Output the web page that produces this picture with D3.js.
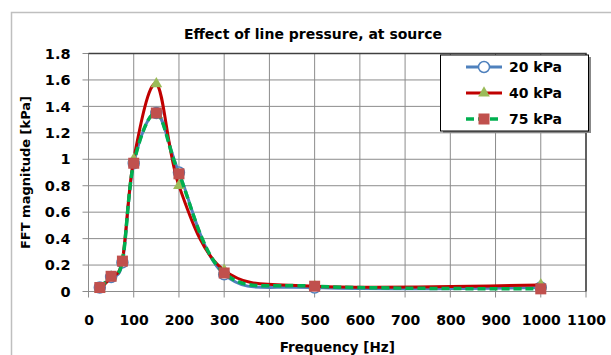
<!DOCTYPE html>
<html>
<head>
<meta charset="utf-8">
<script src="https://cdn.jsdelivr.net/npm/d3@7"></script>
<style>
  body { margin: 0; background: #fff; }
  svg { display: block; }
  text { font-family: 'DejaVu Sans', sans-serif; font-weight: bold; fill: #000; }
</style>
</head>
<body>
<script>
// Values
const freqs = [25, 50, 75, 100, 150, 200, 300, 500, 1000]
const kpa20 = [0.03, 0.11, 0.22, 0.97, 1.35, 0.90, 0.13, 0.03, 0.03]
const kpa40 = [0.02, 0.11, 0.24, 1.00, 1.57, 0.80, 0.16, 0.04, 0.05]
const kpa75 = [0.03, 0.115, 0.23, 0.97, 1.35, 0.89, 0.14, 0.04, 0.02]
const xTicks = [0, 100, 200, 300, 400, 500, 600, 700, 800, 900, 1000, 1100]
const yTicks = [0, 0.2, 0.4, 0.6, 0.8, 1, 1.2, 1.4, 1.6, 1.8]
const seriesNames = ['20 kPa', '40 kPa', '75 kPa']

const W = 611, H = 355
const svg = d3.select('body').append('svg').attr('width', W).attr('height', H)

// outer chart frame
svg.append('rect')
  .attr('x', 11.5).attr('y', 12.5).attr('width', 620).attr('height', 360)
  .attr('fill', '#fff').attr('stroke', '#bfbfbf').attr('stroke-width', 1.5)

const x = d3.scaleLinear().domain([0, 1100]).range([88.5, 586])
const y = d3.scaleLinear().domain([0, 1.8]).range([291.5, 53.5])

// gridlines
const grid = svg.append('g')
grid.selectAll('.vg').data(xTicks).join('line')
  .attr('x1', d => x(d)).attr('x2', d => x(d))
  .attr('y1', y(1.8)).attr('y2', y(0) + 6)
  .attr('stroke', '#8c8c8c').attr('stroke-width', 1)
grid.selectAll('.hg').data(yTicks).join('line')
  .attr('x1', x(0) - 6).attr('x2', x(1100))
  .attr('y1', d => y(d)).attr('y2', d => y(d))
  .attr('stroke', '#8c8c8c').attr('stroke-width', 1)

// plot area top/right border
svg.append('path')
  .attr('d', `M${x(0)},${y(1.8)}H${x(1100)}V${y(0)}`)
  .attr('fill', 'none').attr('stroke', '#404040').attr('stroke-width', 1.5)

// axes labels (ticks drawn as gridline stubs above)
const xAxis = d3.axisBottom(x).tickValues(xTicks).tickSize(0).tickPadding(24)
  .tickFormat(d3.format('d'))
svg.append('g').attr('transform', `translate(0,${y(0)})`).call(xAxis)
  .call(g => g.select('.domain').remove())
  .selectAll('text').style('font-size', '14px')

const yAxis = d3.axisLeft(y).tickValues(yTicks).tickSize(0).tickPadding(18)
  .tickFormat(d3.format('.1~f'))
svg.append('g').attr('transform', `translate(${x(0)},0)`).call(yAxis)
  .call(g => g.select('.domain').remove())
  .selectAll('text').style('font-size', '14.5px')

// titles
svg.append('text').attr('x', 313).attr('y', 39).attr('text-anchor', 'middle')
  .style('font-size', '14px').text('Effect of line pressure, at source')
svg.append('text').attr('x', (x(0) + x(1100)) / 2).attr('y', 352).attr('text-anchor', 'middle')
  .style('font-size', '13.5px').text('Frequency [Hz]')
svg.append('text').attr('transform', `translate(30,${(y(0) + y(1.8)) / 2}) rotate(-90)`)
  .attr('text-anchor', 'middle').style('font-size', '13px').text('FFT magnitude [kPa]')

const line = d3.line().x(d => x(d[0])).y(d => y(d[1])).curve(d3.curveCardinal.tension(0))
const plot = svg.append('g')

function drawMarker(g, kind, cx, cy) {
  if (kind === 'circle') {
    g.append('circle').attr('cx', cx).attr('cy', cy).attr('r', 5.5)
      .attr('fill', '#fff').attr('stroke', '#4f81bd').attr('stroke-width', 1.5)
  } else if (kind === 'tri') {
    g.append('path').attr('d', d3.symbol(d3.symbolTriangle, 60)())
      .attr('transform', `translate(${cx},${cy})`).attr('fill', '#9bbb59')
  } else {
    g.append('rect').attr('x', cx - 5.5).attr('y', cy - 5.5).attr('width', 11).attr('height', 11)
      .attr('fill', '#c0504d')
  }
}

const series = [
  { vals: kpa20, color: '#4f81bd', width: 3, dash: null, marker: 'circle' },
  { vals: kpa40, color: '#c00000', width: 3, dash: null, marker: 'tri' },
  { vals: kpa75, color: '#00b050', width: 3.5, dash: '8,4', marker: 'square' }
]

series.forEach(s => {
  const pts = freqs.map((f, i) => [f, s.vals[i]])
  plot.append('path').attr('d', line(pts))
    .attr('fill', 'none').attr('stroke', s.color).attr('stroke-width', s.width)
    .attr('stroke-dasharray', s.dash)
  pts.forEach(p => drawMarker(plot, s.marker, x(p[0]), y(p[1])))
})

// legend
const lg = svg.append('g')
lg.append('rect').attr('x', 443).attr('y', 57).attr('width', 148).attr('height', 76).attr('fill', '#888')
lg.append('rect').attr('x', 440.5).attr('y', 55).attr('width', 148).attr('height', 76)
  .attr('fill', '#fff').attr('stroke', '#000').attr('stroke-width', 1)
series.forEach((s, i) => {
  const cy = 67 + i * 26
  lg.append('line').attr('x1', 466).attr('x2', 502).attr('y1', cy).attr('y2', cy)
    .attr('stroke', s.color).attr('stroke-width', s.width).attr('stroke-dasharray', s.dash)
  drawMarker(lg, s.marker, 484, cy)
  lg.append('text').attr('x', 509).attr('y', cy).attr('dy', '0.36em')
    .style('font-size', '14px').text(seriesNames[i])
})
</script>
</body>
</html>
